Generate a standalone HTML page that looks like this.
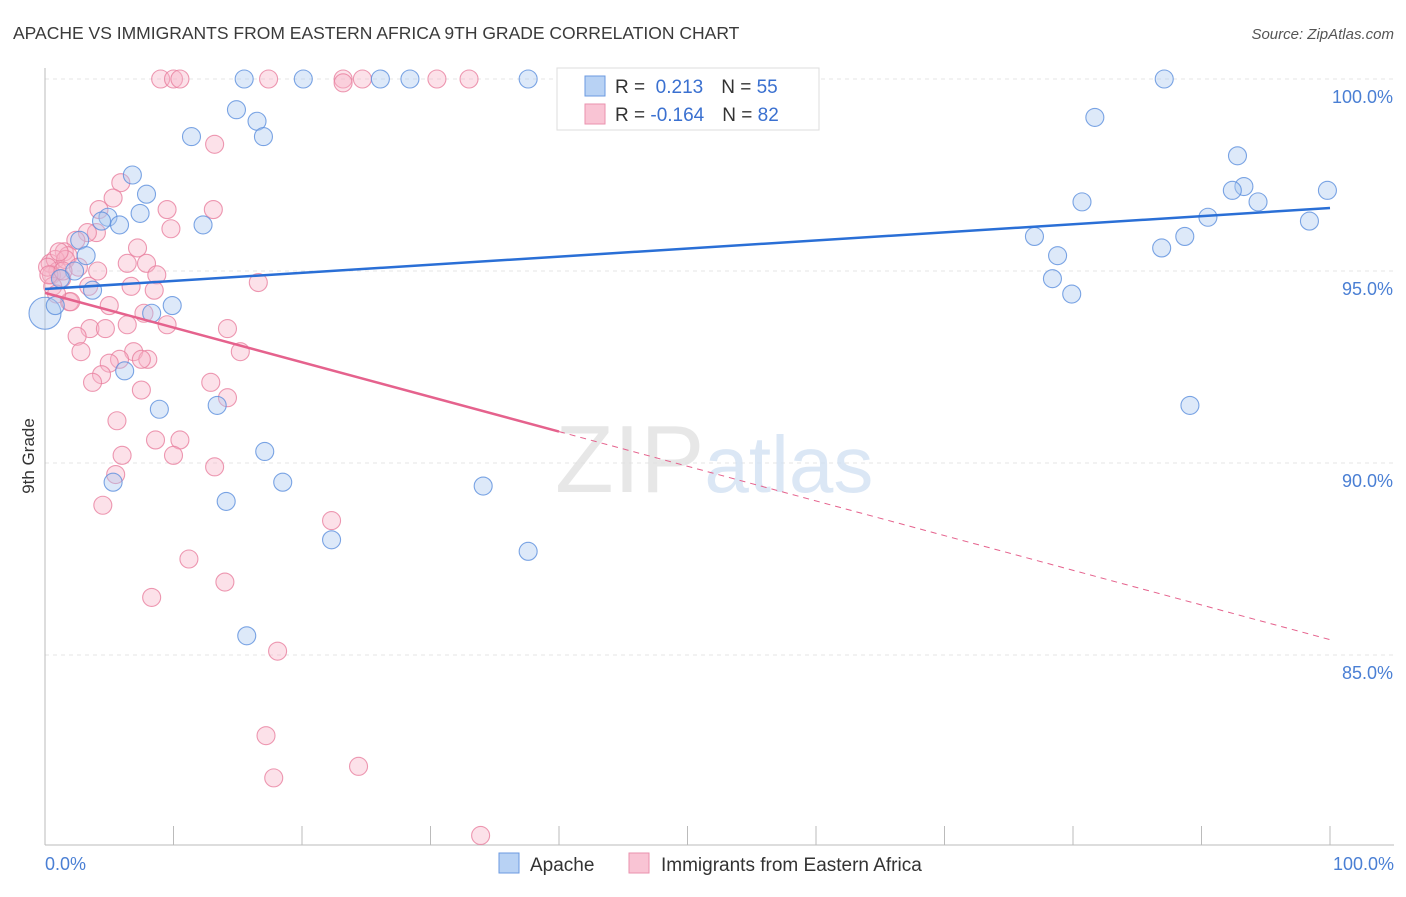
<!DOCTYPE html>
<html><head><meta charset="utf-8"><style>
body{margin:0;background:#fff;font-family:"Liberation Sans",sans-serif}
svg text{font-family:"Liberation Sans",sans-serif}
</style></head><body>
<svg id="chart" width="1406" height="892" viewBox="0 0 1406 892" xmlns="http://www.w3.org/2000/svg">
<text x="13" y="39" font-size="17.5" fill="#3a3a3a">APACHE VS IMMIGRANTS FROM EASTERN AFRICA 9TH GRADE CORRELATION CHART</text>
<text x="1394" y="39" font-size="15" fill="#555" font-style="italic" text-anchor="end">Source: ZipAtlas.com</text>
<g id="grid"></g>
<text x="555" y="492" font-size="96" fill="#e0e0e0" font-family="Liberation Serif" opacity="0.75">ZIP<tspan fill="#d0dff2" font-family="Liberation Sans" font-size="80">atlas</tspan></text>
<g id="marks"></g>
<text transform="translate(34,456) rotate(-90)" font-size="17" fill="#333" text-anchor="middle">9th Grade</text>
<text x="45" y="870" font-size="18" fill="#4a7fd4">0.0%</text>
<text x="1394" y="870" font-size="18" fill="#4a7fd4" text-anchor="end">100.0%</text>
<g>
<rect x="557" y="68" width="262" height="62" fill="#fff" stroke="#ddd"/>
<rect x="585" y="76" width="20" height="20" fill="#b8d2f4" stroke="#6b9ae0"/>
<rect x="585" y="104" width="20" height="20" fill="#f9c4d4" stroke="#ea92ae"/>
<text x="615" y="93" font-size="19" fill="#333">R = <tspan fill="#3a70d0">&#160;0.213</tspan><tspan dx="18">N = </tspan><tspan fill="#3a70d0">55</tspan></text>
<text x="615" y="121" font-size="19" fill="#333">R = <tspan fill="#3a70d0">-0.164</tspan><tspan dx="18">N = </tspan><tspan fill="#3a70d0">82</tspan></text>
</g>
<g>
<rect x="499" y="853" width="20" height="20" fill="#b8d2f4" stroke="#6b9ae0"/>
<text x="530" y="871" font-size="19" fill="#333">Apache</text>
<rect x="629" y="853" width="20" height="20" fill="#f9c4d4" stroke="#ea92ae"/>
<text x="661" y="871" font-size="19" fill="#333">Immigrants from Eastern Africa</text>
</g>
</svg>
<script>
const yTicks=[100,95,90,85];
const yTickLabels=["100.0%","95.0%","90.0%","85.0%"];
const xTicks=[0,10,20,30,40,50,60,70,80,90,100];
const apacheX=[0,0.8,15.5,20.1,26.1,28.4,37.6,14.9,11.4,16.5,17.0,6.8,7.9,7.4,4.9,4.4,5.8,12.3,2.7,3.2,2.3,1.2,3.7,9.9,8.3,6.2,8.9,13.4,17.1,5.3,18.5,34.1,14.1,22.3,37.6,15.7,87.1,81.7,92.8,99.8,93.3,92.4,80.7,94.4,90.5,98.4,77.0,88.7,86.9,78.8,78.4,79.9,89.1];
const apacheY=[93.9,94.1,100,100,100,100,100,99.2,98.5,98.9,98.5,97.5,97.0,96.5,96.4,96.3,96.2,96.2,95.8,95.4,95.0,94.8,94.5,94.1,93.9,92.4,91.4,91.5,90.3,89.5,89.5,89.4,89.0,88.0,87.7,85.5,100,99.0,98.0,97.1,97.2,97.1,96.8,96.8,96.4,96.3,95.9,95.9,95.6,95.4,94.8,94.4,91.5];
const immX=[9.0,10.0,10.5,17.4,23.2,23.2,24.7,30.5,33.0,13.2,5.9,5.3,4.2,9.5,13.1,9.8,4.0,3.3,2.4,1.5,7.2,1.8,0.4,0.8,1.0,0.5,1.3,6.4,7.9,4.1,8.7,16.6,3.4,6.7,8.5,1.9,5.0,7.7,9.5,6.4,14.2,3.5,4.7,2.5,2.8,6.9,15.2,5.8,5.0,8.0,7.5,4.4,3.7,12.9,7.5,14.2,5.6,8.6,10.5,10.0,6.0,13.2,5.5,4.5,22.3,11.2,14.0,8.3,18.1,17.2,17.8,24.4,33.9,0.2,0.6,1.6,2.0,0.3,1.1,2.6,0.9,1.4];
const immY=[100,100,100,100,100,99.9,100,100,100,98.3,97.3,96.9,96.6,96.6,96.6,96.1,96.0,96.0,95.8,95.5,95.6,95.4,95.2,95.3,95.0,94.9,94.8,95.2,95.2,95.0,94.9,94.7,94.6,94.6,94.5,94.2,94.1,93.9,93.6,93.6,93.5,93.5,93.5,93.3,92.9,92.9,92.9,92.7,92.6,92.7,92.7,92.3,92.1,92.1,91.9,91.7,91.1,90.6,90.6,90.2,90.2,89.9,89.7,88.9,88.5,87.5,86.9,86.5,85.1,82.9,81.8,82.1,80.3,95.1,94.6,95.3,94.2,94.9,95.5,95.1,94.4,95.0];
const apacheTrend=[94.53,96.64];
const immTrend=[94.43,85.4];
const immSolidEnd=40;
const X=v=>45+v*12.85, Y=v=>79+(100-v)*38.4;
const NS="http://www.w3.org/2000/svg";
const svg=document.getElementById('chart'), grid=document.getElementById('grid'), marks=document.getElementById('marks');
function mk(tag,attrs,parent){const e=document.createElementNS(NS,tag);for(const k in attrs)e.setAttribute(k,attrs[k]);parent.appendChild(e);return e;}
yTicks.forEach((t,i)=>{
 const l=mk('line',{x1:45,x2:1394,y1:Y(t),y2:Y(t),stroke:'#e4e4e4','stroke-dasharray':'4,4'},grid);
 
 
 const tx=mk('text',{x:1393,y:Y(t)+24,'font-size':18,fill:'#4a7fd4','text-anchor':'end'},grid);
 tx.textContent=yTickLabels[i];
 
 
});
const ax=mk('line',{x1:45,x2:45,y1:68,y2:845,stroke:'#bbb'},grid);


const bx=mk('line',{x1:45,x2:1394,y1:845,y2:845,stroke:'#bbb'},grid);


xTicks.forEach(t=>{const l=mk('line',{x1:X(t),x2:X(t),y1:826,y2:845,stroke:'#bbb'},grid);
 
 });
function dots(xs,ys,fill,stroke,name){xs.forEach((x,i)=>{
 const r=(i===0&&name==='apache-point')?16:9;
 const c=mk('circle',{cx:X(x),cy:Y(ys[i]),r:r,fill:fill,'fill-opacity':0.4,stroke:stroke,'stroke-opacity':0.8,'stroke-width':1.1},marks);
 
 });}
dots(immX,immY,'#f7b3c8','#e8809f','immigrants-point');
dots(apacheX,apacheY,'#a9c9f1','#5b8fdd','apache-point');
const bl=mk('line',{x1:X(0),y1:Y(apacheTrend[0]),x2:X(100),y2:Y(apacheTrend[1]),stroke:'#2a6fd6','stroke-width':2.5},marks);


const py=v=>immTrend[0]+(immTrend[1]-immTrend[0])*v/100;
const pl=mk('line',{x1:X(0),y1:Y(py(0)),x2:X(immSolidEnd),y2:Y(py(immSolidEnd)),stroke:'#e5628d','stroke-width':2.5},marks);


const pd=mk('line',{x1:X(immSolidEnd),y1:Y(py(immSolidEnd)),x2:X(100),y2:Y(py(100)),stroke:'#e5628d','stroke-width':1,'stroke-dasharray':'6,5'},marks);


</script>
</body></html>
